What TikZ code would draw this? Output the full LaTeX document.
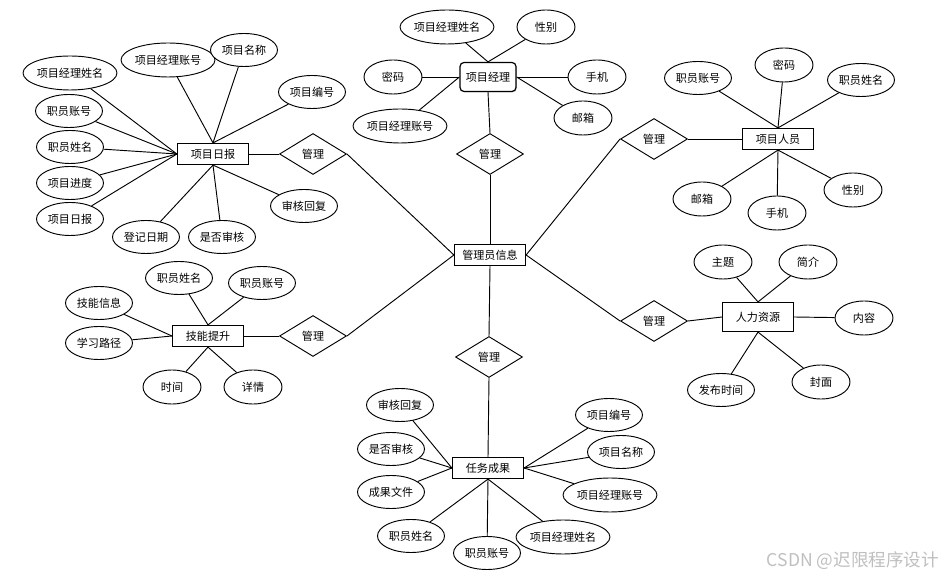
\documentclass[tikz,border=0pt]{standalone}
\usepackage{fontspec}
\newfontfamily\cjk{Noto Sans CJK SC}
\usetikzlibrary{shapes.geometric,shadows}
\begin{document}
\begin{tikzpicture}[x=0.75pt,y=-0.75pt,
  every node/.style={font=\cjk\fontsize{8.3}{10}\selectfont, inner sep=0pt},
  attr/.style={draw, ellipse, fill=white, line width=0.7pt},
  ea/.style={attr, minimum width=43.5pt, minimum height=25.5pt},
  eb/.style={attr, minimum width=50.25pt, minimum height=24.75pt},
  ec/.style={attr, minimum width=66.75pt, minimum height=25.5pt},
  ent/.style={draw, rectangle, fill=white, line width=0.9pt,
    minimum width=53.25pt, minimum height=15.75pt,
    drop shadow={shadow xshift=0.7pt, shadow yshift=-0.7pt, opacity=0.3}},
  rel/.style={draw, diamond, fill=white, line width=0.7pt,
    minimum width=50.25pt, minimum height=30.75pt},
  link/.style={draw, line width=0.7pt}]
\useasboundingbox (0,0) rectangle (950,580);

% central
\node[ent] (m) at (490,255) {管理员信息};

% 项目日报
\node[ent] (r1) at (213,154) {项目日报};
\node[ec] (a1) at (70,73) {项目经理姓名};
\node[ec] (a2) at (168,60) {项目经理账号};
\node[eb] (a3) at (244,50) {项目名称};
\node[eb] (a4) at (312,92) {项目编号};
\node[eb] (a5) at (69,111) {职员账号};
\node[eb] (a6) at (70,147) {职员姓名};
\node[eb] (a7) at (70,183) {项目进度};
\node[eb] (a8) at (70,219) {项目日报};
\node[eb] (a9) at (146,237) {登记日期};
\node[eb] (a10) at (222,237) {是否审核};
\node[eb] (a11) at (304,206) {审核回复};
\node[rel] (d1) at (313,154) {管理};

% 项目经理
\node[ent, rounded corners=3pt, minimum width=42pt, minimum height=21.75pt] (r2) at (488,77) {项目经理};
\node[ec] (b1) at (447,27) {项目经理姓名};
\node[ea] (b2) at (546,27) {性别};
\node[ea] (b3) at (393,77) {密码};
\node[ea] (b4) at (597,77) {手机};
\node[ec] (b5) at (400,126) {项目经理账号};
\node[ea] (b6) at (583,118) {邮箱};
\node[rel] (d2) at (490,154) {管理};

% 项目人员
\node[ent] (r3) at (778,139) {项目人员};
\node[eb] (c1) at (698,78) {职员账号};
\node[ea] (c2) at (784,65) {密码};
\node[eb] (c3) at (861,80) {职员姓名};
\node[ea] (c4) at (702,199) {邮箱};
\node[ea] (c5) at (777,213) {手机};
\node[ea] (c6) at (853,190) {性别};
\node[rel] (d3) at (654,139) {管理};

% 技能提升
\node[ent] (r4) at (208,336) {技能提升};
\node[eb] (f1) at (179,278) {职员姓名};
\node[eb] (f2) at (262,283) {职员账号};
\node[eb] (f3) at (99,303) {技能信息};
\node[eb] (f4) at (99,343) {学习路径};
\node[ea] (f5) at (172,387) {时间};
\node[ea] (f6) at (253,387) {详情};
\node[rel] (d4) at (313,336) {管理};

% 人力资源
\node[ent, minimum height=21.75pt] (r5) at (758,317) {人力资源};
\node[ea] (g1) at (723,262) {主题};
\node[ea] (g2) at (808,262) {简介};
\node[ea] (g3) at (864,318) {内容};
\node[eb] (g4) at (721,390) {发布时间};
\node[ea] (g5) at (821,382) {封面};
\node[rel] (d5) at (654,321) {管理};

% 任务成果
\node[ent] (r6) at (488,468) {任务成果};
\node[eb] (h1) at (400,405) {审核回复};
\node[eb] (h2) at (391,449) {是否审核};
\node[eb] (h3) at (391,492) {成果文件};
\node[eb] (h4) at (411,536) {职员姓名};
\node[eb] (h5) at (487,553) {职员账号};
\node[ec] (h6) at (563,537) {项目经理姓名};
\node[eb] (h7) at (609,415) {项目编号};
\node[eb] (h8) at (621,452) {项目名称};
\node[ec] (h9) at (610,495) {项目经理账号};
\node[rel] (d6) at (489,357) {管理};

% watermark
\node[font=\cjk\fontsize{13.2}{15}\selectfont, text=black!25] (wm) at (853,561) {CSDN @迟限程序设计};

% connectors
\foreach \e in {a1,a5,a6,a7,a8} \draw[link] (\e) -- (r1.west);
\foreach \e in {a2,a3,a4} \draw[link] (\e) -- (r1.north);
\foreach \e in {a9,a10,a11} \draw[link] (\e) -- (r1.south);
\draw[link] (r1.east) -- (d1.west);
\draw[link] (d1.east) -- (m.west);

\foreach \e in {b1,b2} \draw[link] (\e) -- (r2.north);
\foreach \e in {b3,b5} \draw[link] (\e) -- (r2.west);
\foreach \e in {b4,b6} \draw[link] (\e) -- (r2.east);
\draw[link] (r2.south) -- (d2.north);
\draw[link] (d2.south) -- (m.north);

\foreach \e in {c1,c2,c3} \draw[link] (\e) -- (r3.north);
\foreach \e in {c4,c5,c6} \draw[link] (\e) -- (r3.south);
\draw[link] (d3.east) -- (r3.west);
\draw[link] (d3.west) -- (m.east);

\foreach \e in {f1,f2} \draw[link] (\e) -- (r4.north);
\foreach \e in {f3,f4} \draw[link] (\e) -- (r4.west);
\foreach \e in {f5,f6} \draw[link] (\e) -- (r4.south);
\draw[link] (r4.east) -- (d4.west);
\draw[link] (d4.east) -- (m.west);

\foreach \e in {g1,g2} \draw[link] (\e) -- (r5.north);
\draw[link] (g3) -- (r5.east);
\foreach \e in {g4,g5} \draw[link] (\e) -- (r5.south);
\draw[link] (d5.east) -- (r5.west);
\draw[link] (d5.west) -- (m.east);

\foreach \e in {h1,h2,h3} \draw[link] (\e) -- (r6.west);
\foreach \e in {h4,h5,h6} \draw[link] (\e) -- (r6.south);
\foreach \e in {h7,h8,h9} \draw[link] (\e) -- (r6.east);
\draw[link] (m.south) -- (d6.north);
\draw[link] (d6.south) -- (r6.north);
\end{tikzpicture}
\end{document}
